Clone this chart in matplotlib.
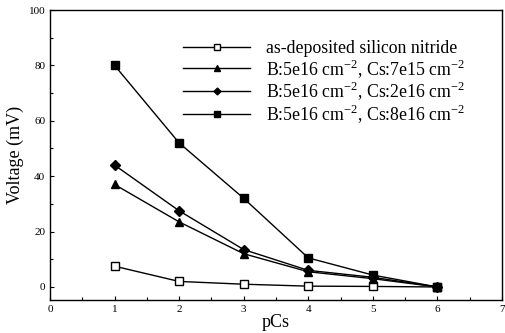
import matplotlib
matplotlib.use("Agg")
import matplotlib.pyplot as plt

plt.rcParams['font.family'] = ['Liberation Serif', 'DejaVu Serif']
plt.rcParams['mathtext.fontset'] = 'custom'
plt.rcParams['mathtext.rm'] = 'Liberation Serif'

pcs = [1, 2, 3, 4, 5, 6]
as_dep = [7.5, 2.0, 1.0, 0.3, 0.2, 0.0]
cs_7e15 = [37, 23.5, 12, 5.5, 3.0, 0.0]
cs_2e16 = [44, 27.5, 13.5, 6.0, 3.5, 0.0]
cs_8e16 = [80, 52, 32, 10.5, 4.3, 0.0]

labels = [
    "as-deposited silicon nitride",
    r"B:5e16 cm$^{-2}$, Cs:7e15 cm$^{-2}$",
    r"B:5e16 cm$^{-2}$, Cs:2e16 cm$^{-2}$",
    r"B:5e16 cm$^{-2}$, Cs:8e16 cm$^{-2}$",
]

fig = plt.figure(figsize=(5.05, 3.33), dpi=100)
ax = fig.add_axes([50/505, 1-300/333, 452/505, 290/333])

ax.plot(pcs, as_dep, color='black', lw=1.0, marker='s', ms=6, mfc='white', mec='black', mew=1.0, label=labels[0])
ax.plot(pcs, cs_7e15, color='black', lw=1.0, marker='^', ms=6, label=labels[1])
ax.plot(pcs, cs_2e16, color='black', lw=1.0, marker='D', ms=5, label=labels[2])
ax.plot(pcs, cs_8e16, color='black', lw=1.0, marker='s', ms=6, label=labels[3])

ax.set_xlim(0, 7)
ax.set_ylim(-4.7, 100)
ax.set_xticks(range(0, 8))
ax.set_xticks([0.5 + i for i in range(7)], minor=True)
ax.set_yticks(range(0, 101, 20))
ax.set_yticks(range(10, 100, 20), minor=True)
ax.tick_params(which='both', direction='in', labelsize=8, width=0.8)
ax.tick_params(which='major', length=3)
ax.tick_params(which='minor', length=2)
for s in ax.spines.values():
    s.set_linewidth(1.0)

ax.set_xlabel('pCs', fontsize=13, labelpad=0)
ax.set_ylabel('Voltage (mV)', fontsize=13, labelpad=3)

ax.legend(loc='upper left', bbox_to_anchor=(0.294, 0.897), frameon=False, fontsize=12.8,
          handlelength=3.8, handletextpad=0.85, labelspacing=-0.01, borderaxespad=0,
          borderpad=0, markerscale=0.7)

fig.savefig('out.png', dpi=100)
